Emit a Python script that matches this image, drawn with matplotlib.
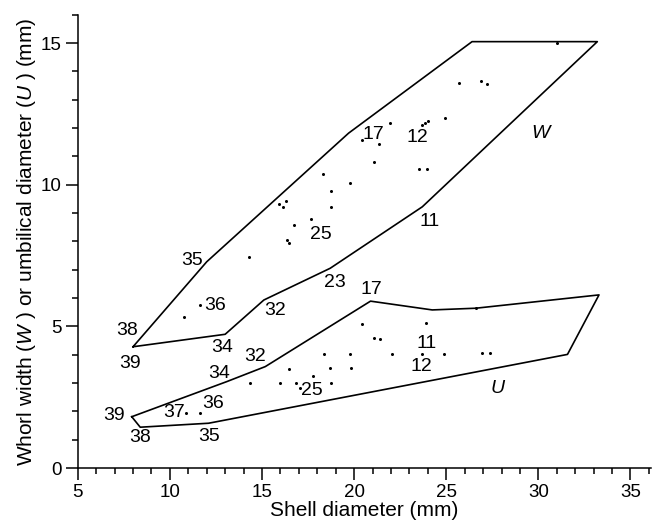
import matplotlib
matplotlib.use("Agg")
from matplotlib import pyplot as plt
from matplotlib.ticker import MultipleLocator, FixedLocator

plt.rcParams['font.family'] = ['Liberation Sans', 'DejaVu Sans']
plt.rcParams['mathtext.fontset'] = 'custom'
plt.rcParams['mathtext.rm'] = 'Liberation Sans'
plt.rcParams['mathtext.it'] = 'Liberation Sans:italic'

# omriss av W (whorl width)
w_x = [8.0, 12.0, 19.7, 26.4, 33.2, 23.7, 18.7, 15.1, 13.0, 8.0]
w_y = [4.28, 7.28, 11.82, 15.05, 15.05, 9.22, 7.05, 5.93, 4.72, 4.28]

# omriss av U (umbilical diameter)
u_x = [7.93, 8.39, 12.1, 31.58, 33.29, 26.6, 24.24, 20.89, 15.18, 13.09, 7.93]
u_y = [1.81, 1.44, 1.58, 4.01, 6.11, 5.64, 5.58, 5.89, 3.58, 3.05, 1.81]

# enkeltmaalinger
w_pkt_x = [20.43, 21.34, 21.97, 21.07, 18.32, 19.80, 18.75, 18.75, 17.66, 16.76,
           15.94, 16.14, 16.30, 16.36, 16.47, 14.31, 25.68, 26.90, 27.23, 24.91,
           24.0, 23.82, 23.70, 23.51, 23.93, 11.61, 10.78, 31.0]
w_pkt_y = [11.58, 11.44, 12.17, 10.81, 10.37, 10.06, 9.79, 9.22, 8.79, 8.57,
           9.32, 9.22, 9.41, 8.05, 7.95, 7.44, 13.58, 13.67, 13.55, 12.34,
           12.26, 12.17, 12.11, 10.54, 10.54, 5.75, 5.32, 15.0]

u_pkt_x = [20.43, 23.91, 21.07, 21.43, 18.35, 19.76, 22.07, 23.70, 24.87, 26.96,
           27.37, 18.71, 19.84, 17.77, 18.77, 16.45, 14.33, 15.96, 16.86, 17.08,
           10.89, 11.61, 26.6]
u_pkt_y = [5.08, 5.13, 4.58, 4.55, 4.02, 4.02, 4.01, 4.01, 4.01, 4.05,
           4.05, 3.52, 3.54, 3.25, 3.01, 3.51, 3.01, 2.99, 2.99, 2.81,
           1.93, 1.93, 5.64]

# nummer-etiketter
etiketter = [
    ("35", 11.2, 7.34), ("38", 7.66, 4.85), ("39", 7.84, 3.70), ("36", 12.46, 5.72),
    ("34", 12.86, 4.26), ("32", 15.72, 5.55), ("23", 18.93, 6.54), ("25", 18.17, 8.25),
    ("17", 21.07, 11.78), ("12", 23.42, 11.66), ("11", 24.11, 8.69),
    ("32", 14.64, 3.93), ("34", 12.70, 3.34), ("39", 6.99, 1.87), ("38", 8.39, 1.07),
    ("37", 10.25, 1.95), ("36", 12.34, 2.26), ("35", 12.15, 1.10), ("25", 17.72, 2.73),
    ("17", 20.92, 6.31), ("11", 23.93, 4.38), ("12", 23.64, 3.60),
]

fig = plt.figure(figsize=(6.59, 5.32), dpi=100)
ax = fig.add_axes([0.118, 0.1203, 0.8695, 0.852])

ax.plot(w_x, w_y, color='black', lw=1.2)
ax.plot(u_x, u_y, color='black', lw=1.2)
ax.plot(w_pkt_x, w_pkt_y, 'o', color='black', ms=2.2, mew=0)
ax.plot(u_pkt_x, u_pkt_y, 'o', color='black', ms=2.2, mew=0)

for tekst, x, y in etiketter:
    ax.text(x, y, tekst, fontsize=14, ha='center', va='center')

ax.text(30.12, 11.81, "W", fontsize=14, style='italic', ha='center', va='center')
ax.text(27.77, 2.81, "U", fontsize=14, style='italic', ha='center', va='center')

ax.set_xlim(5, 36.1)
ax.set_ylim(0, 16)
ax.xaxis.set_major_locator(FixedLocator([5, 10, 15, 20, 25, 30, 35]))
ax.xaxis.set_minor_locator(FixedLocator(list(range(6, 37))))
ax.yaxis.set_major_locator(MultipleLocator(5))
ax.yaxis.set_minor_locator(MultipleLocator(1))
ax.tick_params(which='major', length=8.5, width=1.1, labelsize=13.5, pad=3)
ax.tick_params(which='minor', length=4.5, width=1.1)

for side in ['top', 'right']:
    ax.spines[side].set_visible(False)
for side in ['left', 'bottom']:
    ax.spines[side].set_linewidth(1.1)

ax.set_xlabel("Shell diameter (mm)", fontsize=15, labelpad=0)
ax.set_ylabel(r"Whorl width ($\it{W}$ ) or umbilical diameter ($\it{U}$ ) (mm)", fontsize=15, labelpad=2)

fig.savefig("out.png", dpi=100)
